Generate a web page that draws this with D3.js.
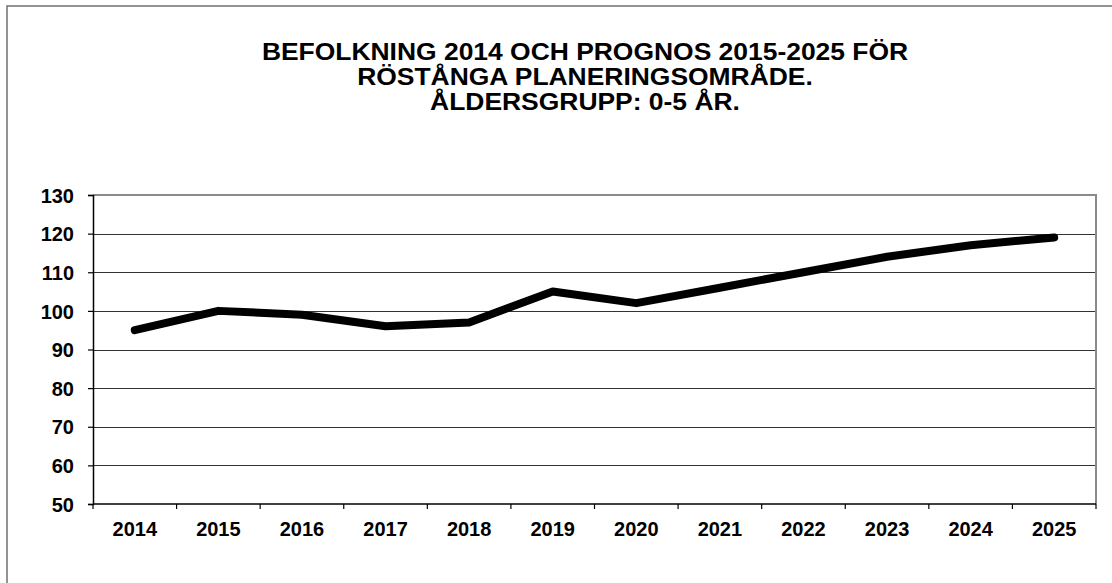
<!DOCTYPE html>
<html>
<head>
<meta charset="utf-8">
<script src="https://cdn.jsdelivr.net/npm/d3@7/dist/d3.min.js"></script>
<style>
  html, body { margin: 0; padding: 0; background: #fff; }
  svg { display: block; }
  text { font-family: "Liberation Sans", Arial, sans-serif; font-weight: bold; fill: #000; }
</style>
</head>
<body>
<svg id="chart" width="1112" height="583"></svg>
<script>
const titleLines = [
  "BEFOLKNING 2014 OCH PROGNOS 2015-2025 FÖR",
  "RÖSTÅNGA PLANERINGSOMRÅDE.",
  "ÅLDERSGRUPP: 0-5 ÅR."
];
const years = ["2014","2015","2016","2017","2018","2019","2020","2021","2022","2023","2024","2025"];
const values = [95, 100, 99, 96, 97, 105, 102, 106, 110, 114, 117, 119];
const yTicks = [50, 60, 70, 80, 90, 100, 110, 120, 130];

const svg = d3.select("#chart");
const plot = { left: 93, right: 1096, top: 195, bottom: 504 };

// outer frame
svg.append("rect")
  .attr("x", 7).attr("y", 6).attr("width", 1120).attr("height", 600)
  .attr("fill", "none").attr("stroke", "#707070").attr("stroke-width", 1.5);

// title (horizontally widened like the reference)
const title = svg.append("text")
  .attr("text-anchor", "middle")
  .attr("transform", "translate(585,0) scale(1.15,1)")
  .style("font-size", "23px");
titleLines.forEach((t, i) => {
  title.append("tspan").attr("x", 0).attr("y", 60 + i * 25).text(t);
});

const x = d3.scaleBand().domain(years).range([plot.left, plot.right]).padding(0);
const y = d3.scaleLinear().domain([50, 130]).range([plot.bottom, plot.top]);

// gridlines
svg.append("g").selectAll("line")
  .data(yTicks.filter(v => v > 50 && v < 130))
  .join("line")
  .attr("x1", plot.left).attr("x2", plot.right)
  .attr("y1", d => Math.round(y(d)) + 0.5).attr("y2", d => Math.round(y(d)) + 0.5)
  .attr("stroke", "#333").attr("stroke-width", 1);

// top and right border (grey)
svg.append("path")
  .attr("d", `M${plot.left},${plot.top}H${plot.right}V${plot.bottom}`)
  .attr("fill", "none").attr("stroke", "#8a8a8a").attr("stroke-width", 2);

// y axis
const yAxis = svg.append("g")
  .attr("transform", `translate(${plot.left},0)`)
  .call(d3.axisLeft(y).tickValues(yTicks).tickSize(5).tickPadding(14));
yAxis.select(".domain").attr("stroke", "#000").attr("stroke-width", 1.5);
yAxis.selectAll(".tick line").attr("stroke", "#000").attr("stroke-width", 1.2);
yAxis.selectAll(".tick text")
  .style("font-size", "20px").style("font-family", "'Liberation Sans', Arial, sans-serif")
  .style("font-weight", "bold").attr("fill", "#000").attr("dy", "0.36em");

// x axis labels
const xAxis = svg.append("g")
  .attr("transform", `translate(0,${plot.bottom})`)
  .call(d3.axisBottom(x).tickSize(0).tickPadding(18));
xAxis.select(".domain").remove();
xAxis.selectAll(".tick text")
  .style("font-size", "20px").style("font-family", "'Liberation Sans', Arial, sans-serif")
  .style("font-weight", "bold").attr("fill", "#000");

// x axis line and boundary ticks
svg.append("line")
  .attr("x1", plot.left).attr("x2", plot.right)
  .attr("y1", plot.bottom).attr("y2", plot.bottom)
  .attr("stroke", "#000").attr("stroke-width", 1.5);
const bounds = years.map(d => x(d)).concat([x.range()[1]]);
svg.append("g").selectAll("line")
  .data(bounds)
  .join("line")
  .attr("x1", d => d).attr("x2", d => d)
  .attr("y1", plot.bottom).attr("y2", plot.bottom + 5)
  .attr("stroke", "#000").attr("stroke-width", 1.2);

// data line
const line = d3.line()
  .x((d, i) => x(years[i]) + x.bandwidth() / 2)
  .y(d => y(d));
svg.append("path")
  .datum(values)
  .attr("d", line)
  .attr("fill", "none")
  .attr("stroke", "#000")
  .attr("stroke-width", 8)
  .attr("stroke-linejoin", "round")
  .attr("stroke-linecap", "round");
</script>
</body>
</html>
